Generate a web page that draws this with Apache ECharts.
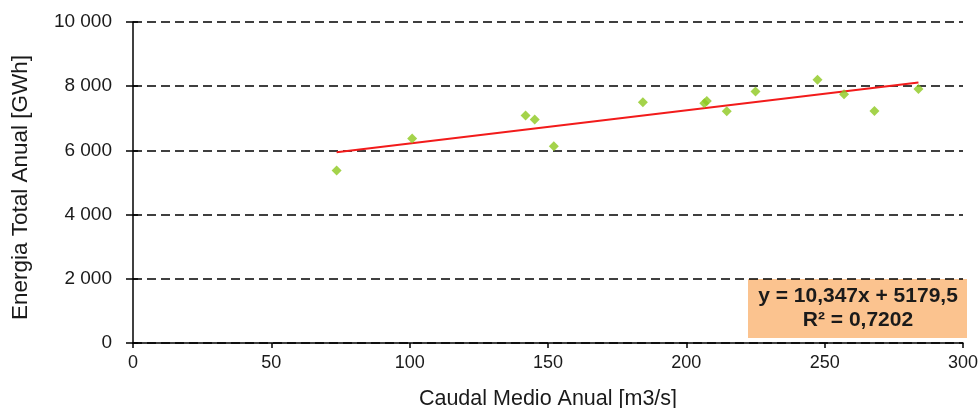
<!DOCTYPE html>
<html><head><meta charset="utf-8">
<script src="https://cdn.jsdelivr.net/npm/echarts@6/dist/echarts.min.js"></script>
<style>html,body{margin:0;padding:0;background:#fff}#c{width:980px;height:408px}</style>
</head><body><div id="c"></div>
<script>
const caudal = [73.6, 100.9, 141.9, 145.2, 152.1, 184.3, 206.5, 207.4, 214.6, 225.0, 247.4, 257.0, 268.0, 283.9];
const energia = [5372, 6368, 7084, 6959, 6131, 7501, 7470, 7541, 7221, 7831, 8204, 7750, 7230, 7915];
const trendCoef = [10.347, 5179.5];
const trendLabel = ['y = 10,347x + 5179,5', 'R² = 0,7202'];
const xTicks = [0, 50, 100, 150, 200, 250, 300];
const yTicks = [0, 2000, 4000, 6000, 8000, 10000];

const pts = caudal.map((x, i) => [x, energia[i]]);
const xmin = Math.min(...caudal), xmax = Math.max(...caudal);
const trend = [xmin, xmax].map(x => [x, trendCoef[0] * x + trendCoef[1]]);
const fmt = v => String(v).replace(/\B(?=(\d{3})+(?!\d))/g, ' ');
const font = 'Liberation Sans, Arial, sans-serif';

const chart = echarts.init(document.getElementById('c'), null, {renderer: 'canvas'});
chart.setOption({
  animation: false,
  grid: {left: 133, right: 17, top: 22, bottom: 65, containLabel: false, outerBoundsMode: 'none'},
  xAxis: {
    type: 'value', min: xTicks[0], max: xTicks[xTicks.length - 1], interval: 50,
    name: 'Caudal Medio Anual [m3/s]', nameLocation: 'middle', nameGap: 45,
    nameTextStyle: {color: '#1a1a1a', fontSize: 21.5, fontFamily: font},
    axisLine: {show: true, onZero: false, lineStyle: {color: '#000', width: 1.5}},
    axisTick: {show: true, length: 5, lineStyle: {color: '#000', width: 1.5}},
    axisLabel: {color: '#1a1a1a', fontSize: 18, fontFamily: font, margin: 11},
    splitLine: {show: false}
  },
  yAxis: [{
    type: 'value', min: yTicks[0], max: yTicks[yTicks.length - 1], interval: 2000,
    name: 'Energia Total Anual [GWh]', nameLocation: 'middle', nameGap: 101,
    nameTextStyle: {color: '#1a1a1a', fontSize: 22.5, fontFamily: font, padding: [0, 10, 0, 0]},
    axisLine: {show: true, onZero: false, lineStyle: {color: '#000', width: 1.5}},
    axisTick: {show: true, length: 7, lineStyle: {color: '#000', width: 1.5}},
    axisLabel: {color: '#1a1a1a', fontSize: 19, fontFamily: font, margin: 21, formatter: v => fmt(v)},
    splitLine: {show: true, lineStyle: {color: '#000', width: 1.5, type: [9, 5]}}
  }, {
    type: 'value', min: yTicks[0], max: yTicks[yTicks.length - 1], interval: 2000, position: 'left',
    axisLine: {show: false},
    axisTick: {show: true, inside: true, length: 5, lineStyle: {color: '#000', width: 1.5}},
    axisLabel: {show: false}, splitLine: {show: false}
  }],
  graphic: [{
    type: 'group', left: 748, top: 279,
    children: [
      {type: 'rect', shape: {x: 0, y: 0, width: 219, height: 59}, style: {fill: '#FBC38F'}},
      {type: 'text', style: {x: 110, y: 17, text: trendLabel[0], align: 'center', verticalAlign: 'middle',
        font: 'bold 21px ' + font, fill: '#1a1a1a'}},
      {type: 'text', style: {x: 110, y: 41, text: trendLabel[1], align: 'center', verticalAlign: 'middle',
        font: 'bold 21px ' + font, fill: '#1a1a1a'}}
    ]
  }],
  series: [
    {type: 'line', data: trend, showSymbol: false, symbol: 'none',
      lineStyle: {color: '#F21B1B', width: 2}, z: 3},
    {type: 'scatter', data: pts, symbol: 'diamond', symbolSize: 10,
      itemStyle: {color: '#8DC81E'}, z: 4}
  ]
});
</script>
</body></html>
